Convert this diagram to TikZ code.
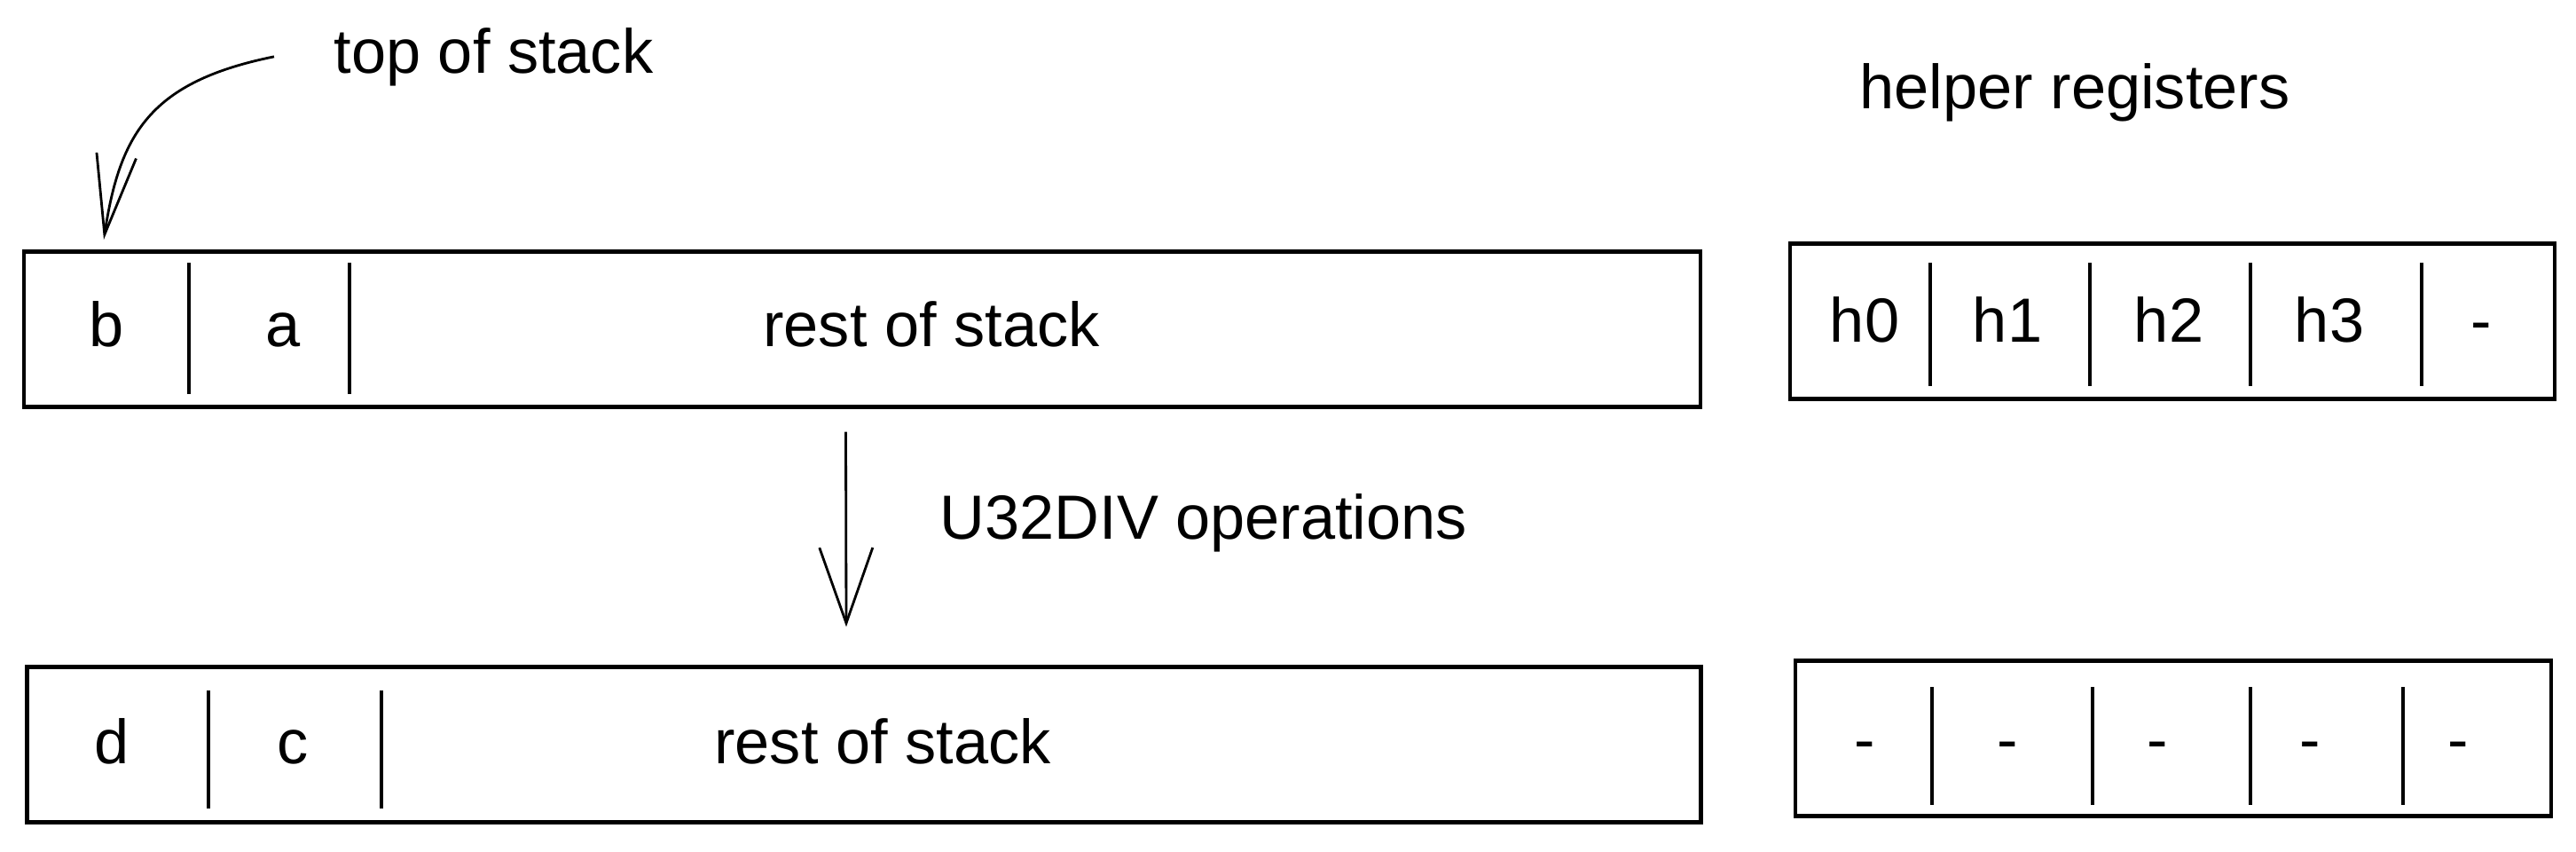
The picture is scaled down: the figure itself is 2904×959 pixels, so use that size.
\documentclass[tikz,border=0pt]{standalone}
\usepackage{fontspec}
\setmainfont{Liberation Sans}
\usetikzlibrary{arrows.meta}
\tikzset{
  pila/.style={rectangle, draw=black, line width=1.2pt, inner sep=0pt,
    minimum height=1.75cm},
  celda/.style={anchor=base, font=\fontsize{20}{24}\selectfont},
  nota/.style={anchor=base west, inner sep=0pt, font=\fontsize{20}{24}\selectfont},
  sep/.style={line width=0.9pt},
  flecha/.style={-{Straight Barb[length=8.5mm, width=6mm]}, line width=0.8pt}
}
\begin{document}
\begin{tikzpicture}[x=0.01cm, y=-0.01cm]
  \useasboundingbox (0,0) rectangle (2904,959);
  % pila antes / despues
  \node[pila, minimum width=18.89cm] (pila1) at (972,371) {};
  \node[pila, minimum width=18.86cm] (pila2) at (974,839) {};
  \foreach \x in {213,394} \draw[sep] (\x,296) -- (\x,444);
  \foreach \x in {235,430} \draw[sep] (\x,778) -- (\x,911);
  \node[celda] (b) at (120,390) {b};
  \node[celda] (a) at (319,390) {a};
  \node[celda] (resto1) at (1050,390) {rest of stack};
  \node[celda] (d) at (126,860) {d};
  \node[celda] (c) at (330,860) {c};
  \node[celda] (resto2) at (995,860) {rest of stack};
  % registros auxiliares
  \node[pila, minimum width=8.61cm] (regs1) at (2449,362) {};
  \node[pila, minimum width=8.52cm] (regs2) at (2450,832) {};
  \foreach \x in {2176,2356,2537,2730} \draw[sep] (\x,296) -- (\x,435);
  \foreach \x in {2178,2359,2537,2709} \draw[sep] (\x,774) -- (\x,907);
  \node[celda] (h0) at (2102,385) {h0};
  \node[celda] (h1) at (2263,385) {h1};
  \node[celda] (h2) at (2445,385) {h2};
  \node[celda] (h3) at (2626,385) {h3};
  \node[celda] (h4) at (2797,385) {-};
  \node[celda] (g0) at (2102,857) {-};
  \node[celda] (g1) at (2263,857) {-};
  \node[celda] (g2) at (2432,857) {-};
  \node[celda] (g3) at (2604,857) {-};
  \node[celda] (g4) at (2771,857) {-};
  \node[celda] (aux) at (2339,122) {helper registers};
  % flechas
  \node[nota] (tope) at (376,82) {top of stack};
  \coordinate (punta) at (117,270);
  \draw[flecha, -{Straight Barb[length=9mm, width=4.5mm]}]
    ([xshift=-0.67cm]tope.west) .. controls (170,92) and (135,150) .. (punta);
  \draw[flecha] ([xshift=-0.185cm, yshift=-0.26cm]pila1.south)
    -- ([xshift=-0.2cm, yshift=0.43cm]pila2.north);
  \node[nota] (ops) at (1059,607) {U32DIV operations};
\end{tikzpicture}
\end{document}
